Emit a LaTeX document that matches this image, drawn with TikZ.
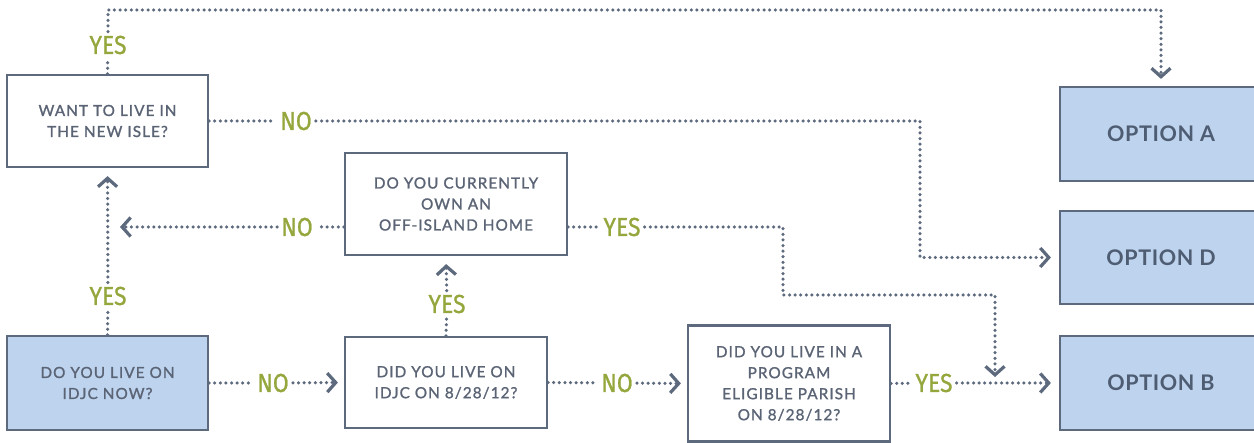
\documentclass[tikz,border=0pt]{standalone}
\usepackage{fontspec}
\usetikzlibrary{arrows.meta}
\newfontfamily\qfont[LetterSpace=7,FakeBold=1.3]{Lato}
\newfontfamily\ofont[LetterSpace=3]{Lato}
\newfontfamily\lfont[FakeBold=0.9,FakeStretch=0.88]{Fira Sans}
\definecolor{edgec}{HTML}{5D6A7E}
\definecolor{txtc}{HTML}{5B6475}
\definecolor{optc}{HTML}{4F5D73}
\definecolor{bluef}{HTML}{BDD3EE}
\definecolor{greenc}{HTML}{94A73C}
\tikzset{
  qbox/.style={draw=edgec, line width=2.2pt, fill=white, align=center,
    text=txtc, font=\qfont\fontsize{15.3}{21}\selectfont, inner sep=0pt},
  obox/.style={draw=edgec, line width=2.2pt, fill=bluef, align=center,
    text=optc, font=\ofont\bfseries\fontsize{21.5}{24}\selectfont, inner sep=0pt,
    minimum width=202pt},
  lab/.style={text=greenc, font=\lfont\fontsize{26}{27}\selectfont, inner sep=4pt},
  dots/.style={draw=edgec, line width=3.5pt, line cap=round, dash pattern=on 0pt off 5.6pt},
  tip/.style={dots, -{Straight Barb[length=8.5pt,width=19pt,line width=3.2pt]}}
}
\begin{document}
\begin{tikzpicture}[x=1pt,y=-1pt]
\useasboundingbox (0,0) rectangle (1254,443);
\fill[white] (0,0) rectangle (1254,443);
% question boxes
\node[qbox, minimum width=201pt, minimum height=92pt] (q1) at (107.5,121) {WANT TO LIVE IN\\THE NEW ISLE?};
\node[qbox, fill=bluef, minimum width=201pt, minimum height=94pt] (q0) at (107.5,383) {DO YOU LIVE ON\\IDJC NOW?};
\node[qbox, minimum width=222pt, minimum height=102pt] (q2) at (456,204) {DO YOU CURRENTLY\\OWN AN\\OFF-ISLAND HOME};
\node[qbox, minimum width=202pt, minimum height=91pt] (q3) at (446,382.5) {DID YOU LIVE ON\\IDJC ON 8/28/12?};
\node[qbox, minimum width=202pt, minimum height=116pt] (q4) at (789,383.5) {DID YOU LIVE IN A\\PROGRAM\\ELIGIBLE PARISH\\ON 8/28/12?};
% option boxes
\node[obox, minimum height=94pt] (optA) at (1161,134) {OPTION A};
\node[obox, minimum height=93pt] (optD) at (1161,257.5) {OPTION D};
\node[obox, minimum height=94pt] (optB) at (1161,383) {OPTION B};
% labels
\node[lab] (y1) at (108,45) {YES};
\node[lab] (n1) at (296,121) {NO};
\node[lab] (y2) at (108,296) {YES};
\node[lab] (n2) at (297,227) {NO};
\node[lab] (y3) at (622,227) {YES};
\node[lab] (n3) at (273,383) {NO};
\node[lab] (y4) at (447,304) {YES};
\node[lab] (n4) at (617,383) {NO};
\node[lab] (y5) at (934,383) {YES};
% helper coordinates
\coordinate (cA) at (optA.north |- 0,10);
\coordinate (c2) at (920,121);
\coordinate (c4) at (q2.west |- n2);
\coordinate (c4b) at (120,227);
\coordinate (c5) at (q2.east |- y3);
\coordinate (c6) at (783,227);
\coordinate (c7) at (783,295);
\coordinate (c8) at (995,295);
\coordinate (c9) at (995,377);
% connectors
\draw[dots] (q1.north) -- (y1);
\draw[tip, shorten >=7pt] (y1) |- (cA) -- (optA.north);
\draw[dots] (q1.east) -- (n1);
\draw[tip, shorten >=8pt] (n1) -- (c2) |- (optD.west);
\draw[dots] (q0.north) -- (y2);
\draw[tip, shorten >=8pt] (y2) -- (q1.south);
\draw[dots] (c4) -- (n2);
\draw[tip] (n2) -- (c4b);
\draw[dots] (c5) -- (y3);
\draw[tip] (y3) -- (c6) -- (c7) -- (c8) -- (c9);
\draw[dots] (q0.east) -- (n3);
\draw[tip, shorten >=6pt] (n3) -- (q3.west);
\draw[dots] (q3.north) -- (y4);
\draw[tip, shorten >=8pt] (y4) -- (q3.north |- q2.south);
\draw[dots] (q3.east) -- (n4);
\draw[tip, shorten >=6pt] (n4) -- (q4.west);
\draw[dots] (q4.east) -- (y5);
\draw[tip, shorten >=8pt] (y5) -- (optB.west);
\end{tikzpicture}
\end{document}
